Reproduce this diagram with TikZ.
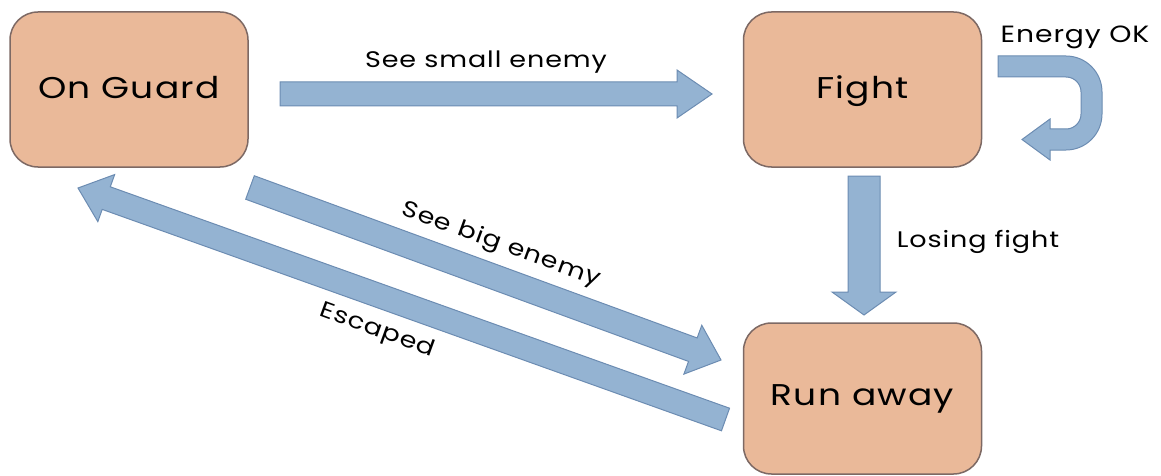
\documentclass[tikz,border=0pt]{standalone}
\usepackage{fontspec}
\setmainfont{Poppins}[FakeStretch=1.2, LetterSpace=4]
\usetikzlibrary{calc}
\definecolor{boxfill}{RGB}{234,185,153}
\definecolor{boxdraw}{RGB}{125,105,100}
\definecolor{arrowfill}{RGB}{148,179,210}
\definecolor{arrowdraw}{RGB}{108,140,178}
\tikzset{
  statebox/.style={draw=boxdraw, fill=boxfill, line width=1.5pt, rounded corners=28pt,
    minimum width=238pt, minimum height=155pt, inner sep=0pt,
    text height=21pt, text depth=3pt,
    font=\fontsize{30}{34}\selectfont, text=black},
  blk/.style={draw=arrowdraw, fill=arrowfill, line width=1pt, line join=miter},
  lbl/.style={font=\fontsize{22.5}{26}\selectfont, text=black, inner sep=0pt},
}
% from, to, shaft half width, head half width, head length
\newcommand{\blockarrow}[5]{%
  \coordinate (ba-base) at ($(#2)!#5!(#1)$);
  \draw[blk] ($(#1)!#3!90:(#2)$) -- ($(ba-base)!#3!-90:(#1)$) -- ($(ba-base)!#4!-90:(#1)$)
    -- (#2) -- ($(ba-base)!#4!90:(#1)$) -- ($(ba-base)!#3!90:(#1)$) -- ($(#1)!#3!-90:(#2)$) -- cycle;
}
\begin{document}
\begin{tikzpicture}[x=1pt,y=-1pt]
\useasboundingbox (0,0) rectangle (1161,476);

% states
\node[statebox] (guard) at (129,89.5) {On Guard};
\node[statebox] (fight) at (862.5,89.5) {Fight};
\node[statebox, minimum height=151pt, text depth=7pt] (run) at (862.5,398.5) {Run away};

% connector end points
\coordinate (smallA) at (280,94);
\coordinate (smallB) at (712,94);
\coordinate (loseA) at (864,176);
\coordinate (loseB) at (864,315);
\coordinate (bigA) at (250,187.5);
\coordinate (bigB) at (721,360);
\coordinate (escA) at (725.5,419.5);
\coordinate (escB) at (78,188);
\coordinate (loopA) at (998,66.5);
\coordinate (loopB) at (1022,139.5);

% block arrows
\blockarrow{smallA}{smallB}{12pt}{24pt}{35pt}
\blockarrow{loseA}{loseB}{16pt}{32pt}{23pt}
\blockarrow{bigA}{bigB}{12.5pt}{26pt}{30pt}
\blockarrow{escA}{escB}{12pt}{25pt}{30pt}

% self loop on Fight
\draw[blk] ($(loopA)+(0,-10.5)$) -- (1066,56) arc[start angle=90, end angle=0, radius=36pt]
  -- (1102,114) arc[start angle=0, end angle=-90, radius=36pt]
  -- (1050,150) -- (1050,160) -- (loopB) -- (1050,119) -- (1050,129)
  -- (1066,129) arc[start angle=-90, end angle=0, radius=15pt]
  -- (1081,92) arc[start angle=0, end angle=90, radius=15pt]
  -- ($(loopA)+(0,10.5)$) -- cycle;

% labels
\node[lbl] (lsmall) at (486,62) {See small enemy};
\node[lbl, font=\fontsize{23.5}{27}\selectfont] (lenergy) at (1075,37) {Energy OK};
\node[lbl] (llose) at (978,242) {Losing fight};
\node[lbl, rotate=-20] (lbig) at (501,245) {See big enemy};
\node[lbl, rotate=-20] (lesc) at (377,331) {Escaped};
\end{tikzpicture}
\end{document}
